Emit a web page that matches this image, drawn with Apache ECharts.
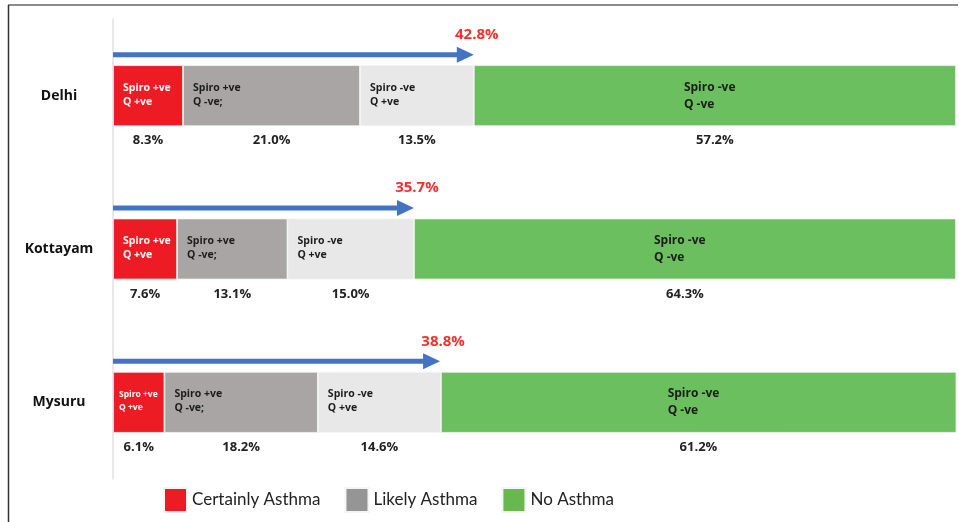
<!DOCTYPE html>
<html>
<head>
<meta charset="utf-8">
<script src="https://cdn.jsdelivr.net/npm/echarts@6/dist/echarts.min.js"></script>
<style>
html,body{margin:0;padding:0;background:#fff;}
#chart{width:959px;height:522px;}
</style>
</head>
<body>
<div id="chart"></div>
<script>
const categories = ['Delhi', 'Kottayam', 'Mysuru'];
const certainAsthma = [8.3, 7.6, 6.1];      // Spiro +ve, Q +ve
const likelySpiroPos = [21.0, 13.1, 18.2];  // Spiro +ve, Q -ve
const likelyQPos = [13.5, 15.0, 14.6];      // Spiro -ve, Q +ve
const noAsthma = [57.2, 64.3, 61.2];        // Spiro -ve, Q -ve
const asthmaTotals = [42.8, 35.7, 38.8];

const segLabels = ['Spiro +ve\nQ +ve', 'Spiro +ve\nQ -ve;', 'Spiro -ve\nQ +ve', 'Spiro -ve\nQ -ve'];
const FONT = 'Lato, "Open Sans", sans-serif';
const BOLD = '"Open Sans", Lato, sans-serif';

const chart = echarts.init(document.getElementById('chart'));

function segSeries(name, values, color, idx, textColor) {
  const isGreen = idx === 3;
  return {
    name: name,
    type: 'bar',
    stack: 'main',
    barWidth: 61,
    silent: true,
    itemStyle: { color: color, borderColor: '#f4f4f4', borderWidth: 0.8 },
    data: values.map((v, i) => {
      const item = { value: v };
      if (idx === 0 && i === 2) item.label = { fontSize: 8.5, lineHeight: 13, distance: 6 };
      return item;
    }),
    label: isGreen ? {
      show: true,
      position: 'inside',
      formatter: '{a|Spiro -ve}\n{a|Q -ve}',
      rich: { a: { width: 62, align: 'left', fontSize: 12, fontWeight: 'bold', color: '#1c1c1c', fontFamily: BOLD, lineHeight: 17 } }
    } : {
      show: true,
      position: 'insideLeft',
      distance: 10,
      formatter: segLabels[idx],
      fontSize: 10.5,
      lineHeight: 14,
      fontWeight: 'bold',
      fontFamily: BOLD,
      color: textColor,
      align: 'left',
      offset: [0, -1]
    }
  };
}

function pctSeries(values, idx) {
  return {
    name: 'pct' + idx,
    type: 'bar',
    stack: 'pct',
    barWidth: 61,
    barGap: '-100%',
    silent: true,
    itemStyle: { color: 'rgba(0,0,0,0)' },
    data: values,
    label: {
      show: true,
      position: 'bottom',
      distance: 8,
      formatter: p => p.value.toFixed(1) + '%',
      fontSize: 13,
      fontWeight: 'bold',
      fontFamily: BOLD,
      color: '#222'
    }
  };
}

const option = {
  animation: false,
  backgroundColor: '#ffffff',
  grid: { left: 113, right: 3, top: 19, bottom: 43, containLabel: false },
  xAxis: { type: 'value', min: 0, max: 100, show: false },
  yAxis: {
    type: 'category',
    data: categories,
    inverse: true,
    axisLine: { show: true, lineStyle: { color: '#e2e2e2', width: 1.5 } },
    axisTick: { show: false },
    splitLine: { show: false },
    axisLabel: { margin: 54, align: 'center', fontSize: 14, fontWeight: 'bold', color: '#111', fontFamily: BOLD, offset: [0, -3] }
  },
  legend: {
    left: 163,
    top: 487,
    padding: 0,
    itemWidth: 23,
    itemHeight: 24,
    itemGap: 24,
    icon: 'rect',
    selectedMode: false,
    textStyle: { fontSize: 17, color: '#222', fontFamily: FONT },
    data: [
      { name: 'Certainly Asthma', itemStyle: { color: '#ED1C24' } },
      { name: 'Likely Asthma', itemStyle: { color: '#959595' } },
      { name: 'No Asthma', itemStyle: { color: '#68B84F' } }
    ]
  },
  graphic: [
    { type: 'line', shape: { x1: 8, y1: 5, x2: 958, y2: 5 }, style: { stroke: '#8c8c8c', lineWidth: 2 }, silent: true },
    { type: 'line', shape: { x1: 8.5, y1: 5, x2: 8.5, y2: 522 }, style: { stroke: '#333', lineWidth: 1.5 }, silent: true }
  ],
  series: [
    segSeries('Certainly Asthma', certainAsthma, '#ED1C24', 0, '#ffffff'),
    segSeries('Likely Asthma', likelySpiroPos, '#A9A5A4', 1, '#1c1c1c'),
    segSeries('Likely Asthma (Spiro -ve)', likelyQPos, '#E8E8E8', 2, '#1c1c1c'),
    segSeries('No Asthma', noAsthma, '#6CBF5E', 3, '#1c1c1c'),
    pctSeries(certainAsthma, 0),
    pctSeries(likelySpiroPos, 1),
    pctSeries(likelyQPos, 2),
    pctSeries(noAsthma, 3),
    {
      name: 'arrows',
      type: 'custom',
      silent: true,
      z: 5,
      data: asthmaTotals.map((t, i) => [t, i]),
      encode: { x: 0, y: 1 },
      renderItem: function (params, api) {
        const start = api.coord([0, api.value(1)]);
        const end = api.coord([api.value(0), api.value(1)]);
        const y = start[1] - 41;
        const x0 = start[0];
        const tip = end[0];
        const headLen = 17, headH = 8, shaft = 2.5;
        return {
          type: 'group',
          children: [
            {
              type: 'polygon',
              shape: {
                points: [
                  [x0, y - shaft], [tip - headLen, y - shaft], [tip - headLen, y - headH],
                  [tip, y], [tip - headLen, y + headH], [tip - headLen, y + shaft], [x0, y + shaft]
                ]
              },
              style: { fill: '#4472C4' }
            },
            {
              type: 'text',
              x: tip + 3,
              y: start[1] - 61,
              style: {
                text: api.value(0).toFixed(1) + '%',
                fill: '#F0302E',
                font: 'bold 15px ' + BOLD,
                align: 'center',
                verticalAlign: 'middle'
              }
            }
          ]
        };
      }
    }
  ]
};
chart.setOption(option);
</script>
</body>
</html>
